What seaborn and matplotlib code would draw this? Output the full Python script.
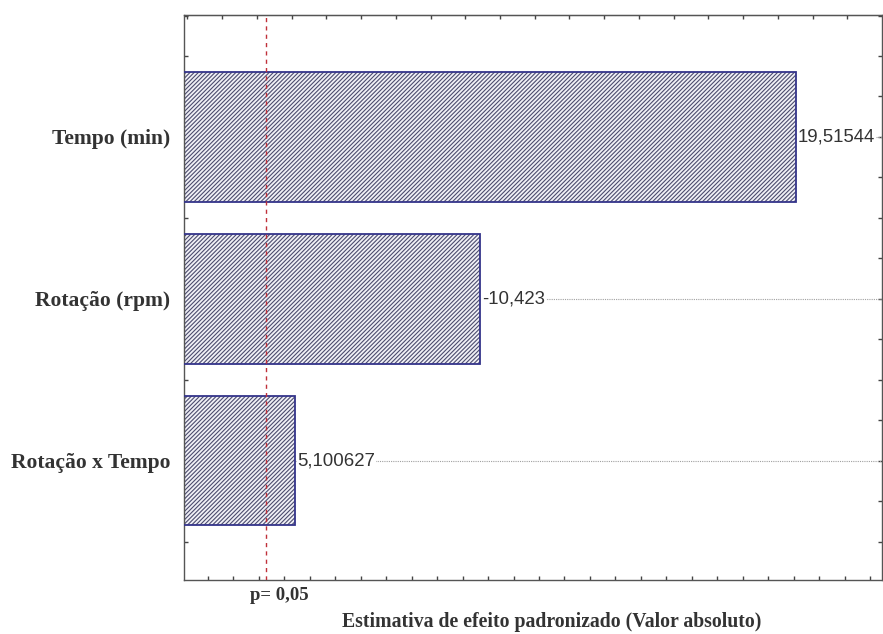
import numpy as np
import pandas as pd
import matplotlib
matplotlib.use("Agg")
import matplotlib.pyplot as plt
from matplotlib.patches import Rectangle
import seaborn as sns

# Standardized effects (Pareto chart)
factors = ["Tempo (min)", "Rotação (rpm)", "Rotação x Tempo"]
effects = [19.51544, -10.423, 5.100627]
p_limit = 4.26          # critical t value, p = 0.05
p_label = "p= 0,05"
x_title = "Estimativa de efeito padronizado (Valor absoluto)"

df = pd.DataFrame({"fator": factors,
                   "efeito": effects,
                   "abs_efeito": np.abs(effects)})

sns.set_style("white")
plt.rcParams["hatch.linewidth"] = 0.8
serif = ["Liberation Serif", "DejaVu Serif"]
sans = ["Liberation Sans", "DejaVu Sans"]

fig = plt.figure(figsize=(8.83, 6.34), dpi=100)
ax = fig.add_axes([0.2084, 0.0852, 0.7905, 0.8911])

navy = "#34348a"
hatch_col = "#4c4c6e"
sns.barplot(data=df, x="abs_efeito", y="fator", orient="h", width=0.8,
            color="white", edgecolor=hatch_col, linewidth=0, ax=ax)
for patch in list(ax.patches):
    patch.set_hatch("////////")
    patch.set_facecolor("#f0f0f6")
    patch.set_edgecolor(hatch_col)
    patch.set_linewidth(0)
    # bar outline drawn on top in navy
    ax.add_patch(Rectangle(patch.get_xy(), patch.get_width(), patch.get_height(),
                           fill=False, edgecolor=navy, linewidth=1.3, zorder=3))

ax.set_xlim(1.9, 22)
ax.set_ylim(2.737, -0.753)

# value labels with dotted guide lines
for i, (v, a) in enumerate(zip(df["efeito"], df["abs_efeito"])):
    ax.plot([a, 22], [i, i], color="#a0a0a0", lw=0.8, ls=(0, (1, 1)), zorder=1)
    ax.text(a + 0.06, i, str(v).replace(".", ","), ha="left", va="center",
            fontsize=13.4, family=sans, color="#333333", zorder=4,
            bbox=dict(facecolor="white", edgecolor="none", pad=0.5))

# significance threshold
ax.axvline(p_limit, color="#c0303a", lw=1.0, ls=(0, (3, 3)), zorder=5)

# axes styling
for s in ax.spines.values():
    s.set_visible(True)
    s.set_color("#555555")
    s.set_linewidth(1.0)

ax.set_xlabel("")
ax.set_ylabel("")
ax.set_xticks(np.arange(2.58, 22, 0.734))
ax.set_xticklabels([])
ax.set_yticks(range(len(factors)))
ax.set_yticklabels(factors, family=serif, fontweight="bold", fontsize=15.5,
                   color="#333333")
ax.set_yticks(np.arange(-0.75, 2.75, 0.25), minor=True)
ax.tick_params(axis="x", direction="in", length=3, width=1, color="#444444",
               bottom=True, top=False)
ax.tick_params(axis="y", which="both", direction="in", length=3, width=1,
               color="#444444", left=True, right=True, pad=10)

top = ax.secondary_xaxis("top")
top.set_xticks(np.arange(2, 22, 1))
top.set_xticklabels([])
top.tick_params(direction="in", length=3, width=1, color="#444444")
top.spines["top"].set_color("#333333")

ax.text(p_limit + 0.38, -0.012, p_label, transform=ax.get_xaxis_transform(),
        ha="center", va="top", family=serif, fontweight="bold",
        fontsize=13.5, color="#333333")
fig.text(552 / 883, 1 - 622 / 634, x_title, ha="center", va="center",
         family=serif, fontweight="bold", fontsize=14.2, color="#333333")

fig.savefig("out.png", dpi=100)
